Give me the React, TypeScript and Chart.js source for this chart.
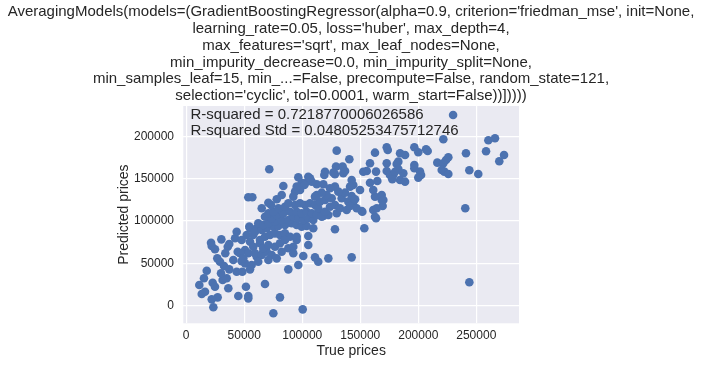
import React, { useEffect, useRef } from "react";
import { Chart, registerables } from "chart.js";

Chart.register(...registerables);

const TITLE_LINES = [
  "AveragingModels(models=(GradientBoostingRegressor(alpha=0.9, criterion='friedman_mse', init=None,",
  "learning_rate=0.05, loss='huber', max_depth=4,",
  "max_features='sqrt', max_leaf_nodes=None,",
  "min_impurity_decrease=0.0, min_impurity_split=None,",
  "min_samples_leaf=15, min_...=False, precompute=False, random_state=121,",
  "selection='cyclic', tol=0.0001, warm_start=False))]))))",
];

const SCORE_LINES = [
  "R-squared = 0.7218770006026586",
  "R-squared Std = 0.04805253475712746",
];

const X_TICKS = [0, 50000, 100000, 150000, 200000, 250000];
const Y_TICKS = [0, 50000, 100000, 150000, 200000];

const TRUE_PRICES = [
  11300, 13400, 16200, 15300, 17700, 21400, 22000, 24800, 30300, 35800,
  37100, 33700, 26800, 29100, 32600, 37100, 40600, 44400, 42100, 43500,
  52100, 54400, 43500, 48400, 50700, 56400, 55000, 31400, 34900, 36300,
  22800, 24800, 27100, 22000, 23400, 44900, 51500, 53500, 53500, 67900,
  75100, 80800, 100400, 88000, 96600, 100900, 113800, 111000, 122500, 128200,
  142600, 105200, 105200, 153500, 163600, 151800, 129700, 118200, 113800, 92300,
  95200, 109500, 30000, 47800, 55000, 50700, 53500, 60800, 57800, 63600,
  66400, 60800, 47800, 57800, 63600, 67900, 72200, 76500, 80800, 85100,
  89500, 59300, 65100, 69400, 73700, 66400, 70800, 76500, 80800, 85100,
  88000, 92300, 82300, 78000, 70800, 62100, 46400, 49200, 55000, 59300,
  65100, 69400, 75100, 79400, 85100, 90900, 95200, 99500, 103800, 95200,
  62100, 66400, 70800, 76500, 82300, 88000, 92300, 96600, 100900, 105200,
  109500, 67900, 73700, 78000, 83700, 89500, 95200, 99500, 103800, 108200,
  112500, 116800, 122500, 70800, 75100, 79400, 85100, 88000, 93800, 98100,
  102400, 106700, 111000, 113800, 119600, 123900, 128200, 132500, 138300, 115300,
  119600, 125400, 121100, 116800, 112500, 134000, 139700, 144000, 151200, 142600,
  145500, 136900, 131100, 128200, 123900, 118200, 112500, 108200, 102400, 99500,
  105200, 96600, 101800, 98100, 93800, 92300, 82300, 78000, 73100, 70800,
  65100, 53500, 57000, 71600, 83700, 119000, 119600, 128200, 129100, 135400,
  136900, 142600, 144000, 141200, 149800, 152600, 129700, 140600, 162700, 172800,
  173700, 184300, 182800, 181400, 158400, 172800, 155600, 163600, 164700, 158400,
  172800, 175600, 178500, 184300, 177600, 187100, 126800, 134800, 106700, 95200,
  161200, 168500, 162700, 141200, 146900, 111000, 188600, 180000, 182800, 161200,
  168500, 169900, 169300, 164200, 162700, 230000, 221600, 260400, 266100, 258400,
  273900, 269800, 241100, 244000, 251700, 196600, 200000, 206700, 208100, 196600,
  196600, 201500, 202400, 200000, 216400, 221600, 223900, 225900, 220200, 222400,
  225900, 240500, 188600, 244000,
];

const PREDICTED_PRICES = [
  24300, 13600, 16300, 32200, 41200, 74300, 70400, 66500, 78300, 69600,
  72800, 61800, 55800, 51800, 46700, 42800, 53800, 63700, 79500, 87300,
  83400, 93300, 40000, 40000, 49900, 47900, 42800, 30200, 32200, 20400,
  27000, 22200, 9700, 7300, -2100, 11200, 22200, 11200, 8500, 25400,
  -9200, 9700, -4500, 42800, 47900, 58600, 51800, 57000, 55800, 90200,
  57000, 71600, 82200, 91400, 103200, 111000, 109100, 105900, 109100, 69600,
  77500, 91400, 38100, 52500, 75500, 65700, 61800, 91400, 83400, 73600,
  63700, 57700, 77500, 69600, 77500, 81400, 83400, 85400, 83400, 85400,
  81400, 61800, 59800, 63700, 59800, 67700, 71600, 69600, 73600, 77500,
  67700, 61800, 63700, 55800, 53800, 51800, 61800, 55800, 91400, 87300,
  89300, 91400, 93300, 94100, 95300, 97300, 95300, 93300, 94100, 81400,
  97300, 95300, 97300, 99200, 101200, 101200, 105100, 103200, 101200, 103200,
  101200, 105100, 103200, 107100, 109100, 111000, 111000, 109100, 111000, 109100,
  107100, 105100, 107100, 109100, 111000, 115000, 116900, 120900, 118900, 120900,
  118900, 120900, 118900, 115000, 111000, 116900, 118900, 115000, 113000, 122900,
  124800, 126900, 130800, 133500, 130800, 126900, 122900, 118900, 111800, 129600,
  125700, 133500, 134700, 140600, 138700, 143400, 143400, 146500, 144600, 145300,
  152400, 151700, 142600, 136700, 134700, 128800, 130800, 125700, 118900, 121600,
  115000, 128000, 128000, 161200, 141400, 154400, 158300, 155300, 164300, 156400,
  159200, 148500, 142600, 140600, 136700, 158300, 183200, 173000, 180800, 187200,
  184000, 180100, 170200, 167500, 168300, 168300, 159200, 158400, 147300, 145300,
  159200, 154400, 154400, 148500, 149300, 156400, 157200, 164300, 150500, 140600,
  113000, 124800, 128800, 117700, 115000, 128800, 178100, 158300, 161500, 136700,
  130800, 124800, 117700, 115000, 105100, 225400, 196700, 195500, 197900, 182500,
  178100, 170600, 180100, 160000, 155600, 187200, 181300, 184800, 182800, 166300,
  162400, 158400, 154400, 151300, 169000, 168300, 172200, 175300, 160400, 158400,
  155600, 115000, 146500, 27500,
];

const X_MIN = -2500;
const X_MAX = 286800;
const Y_MIN = -21000;
const Y_MAX = 236000;

const FONT = "'Liberation Sans', Arial, sans-serif";
const TEXT_COLOR = "#262626";

const backgroundPlugin = {
  id: "axesBackground",
  beforeDraw(chart: any) {
    const { ctx, chartArea } = chart;
    ctx.save();
    ctx.fillStyle = "#EAEAF2";
    ctx.fillRect(chartArea.left, chartArea.top, chartArea.right - chartArea.left, chartArea.bottom - chartArea.top);
    ctx.restore();
  },
};

const titleTextPlugin = {
  id: "titleText",
  afterDraw(chart: any) {
    const { ctx, width } = chart;
    ctx.save();
    ctx.fillStyle = TEXT_COLOR;
    ctx.font = `15px ${FONT}`;
    ctx.textAlign = "center";
    ctx.textBaseline = "middle";
    TITLE_LINES.forEach((line, i) => {
      ctx.fillText(line, width / 2, 12 + i * 16.8);
    });
    ctx.restore();
  },
};

const scoreTextPlugin = {
  id: "scoreText",
  afterDatasetsDraw(chart: any) {
    const { ctx, chartArea } = chart;
    ctx.save();
    ctx.fillStyle = TEXT_COLOR;
    ctx.font = `15px ${FONT}`;
    ctx.textAlign = "left";
    ctx.textBaseline = "middle";
    SCORE_LINES.forEach((line, i) => {
      ctx.fillText(line, chartArea.left + 7.2, chartArea.top + 8.5 + i * 16.7);
    });
    ctx.restore();
  },
};

export default function App() {
  const canvasRef = useRef<HTMLCanvasElement | null>(null);

  useEffect(() => {
    if (!canvasRef.current) return;
    const points = TRUE_PRICES.map((x, i) => ({ x, y: PREDICTED_PRICES[i] }));
    const chart = new Chart(canvasRef.current, {
      type: "scatter",
      data: {
        datasets: [
          {
            data: points,
            backgroundColor: "#4C72B0",
            borderWidth: 0,
            pointRadius: 4.3,
            pointHoverRadius: 4.3,
          },
        ],
      },
      options: {
        animation: false,
        responsive: false,
        devicePixelRatio: 1,
        layout: { padding: { left: 115.6, right: 183, top: 106, bottom: 0 } },
        plugins: {
          legend: { display: false },
          tooltip: { enabled: false },
          title: { display: false },
        },
        scales: {
          x: {
            type: "linear",
            min: X_MIN,
            max: X_MAX,
            afterBuildTicks: (scale: any) => {
              scale.ticks = X_TICKS.map((v) => ({ value: v }));
            },
            afterFit: (scale: any) => {
              scale.height = 41.7;
            },
            border: { display: false },
            grid: { color: "#FFFFFF", lineWidth: 1.2, drawTicks: false },
            ticks: {
              color: TEXT_COLOR,
              font: { family: FONT, size: 12 },
              padding: 5,
              maxRotation: 0,
              autoSkip: false,
              callback: (v: any) => String(v),
            },
            title: {
              display: true,
              text: "True prices",
              color: TEXT_COLOR,
              font: { family: FONT, size: 14 },
              padding: { top: 0, bottom: 5.6 },
            },
          },
          y: {
            type: "linear",
            min: Y_MIN,
            max: Y_MAX,
            afterBuildTicks: (scale: any) => {
              scale.ticks = Y_TICKS.map((v) => ({ value: v }));
            },
            afterFit: (scale: any) => {
              scale.width = 67.7;
            },
            border: { display: false },
            grid: { color: "#FFFFFF", lineWidth: 1.2, drawTicks: false },
            ticks: {
              color: TEXT_COLOR,
              font: { family: FONT, size: 12 },
              padding: 9.3,
              autoSkip: false,
              callback: (v: any) => String(v),
            },
            title: {
              display: true,
              text: "Predicted prices",
              color: TEXT_COLOR,
              font: { family: FONT, size: 14 },
              padding: { top: 0, bottom: 0 },
            },
          },
        },
      },
      plugins: [backgroundPlugin, scoreTextPlugin, titleTextPlugin],
    });
    return () => chart.destroy();
  }, []);

  return (
    <div style={{ position: "fixed", left: 0, top: 0, width: 702, height: 365, background: "#FFFFFF" }}>
      <canvas ref={canvasRef} width={702} height={365} style={{ width: 702, height: 365, display: "block" }} />
    </div>
  );
}
